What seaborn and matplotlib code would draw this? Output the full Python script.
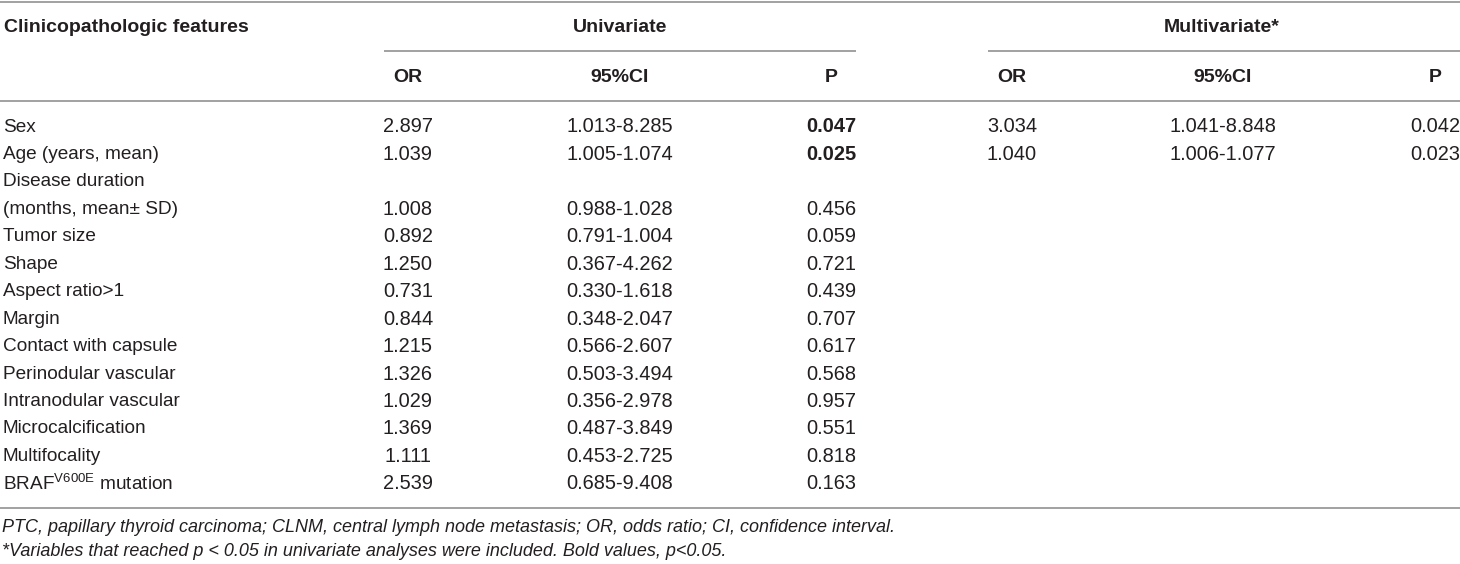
import matplotlib
matplotlib.use("Agg")
import matplotlib.pyplot as plt
import seaborn as sns

# ---------------- data ----------------
features = ["Sex", "Age (years, mean)", "Disease duration", "(months, mean\u00b1 SD)",
            "Tumor size", "Shape", "Aspect ratio>1", "Margin", "Contact with capsule",
            "Perinodular vascular", "Intranodular vascular", "Microcalcification",
            "Multifocality", r"BRAF$^{\mathrm{V600E}}$ mutation"]
uni_or = ["2.897", "1.039", "", "1.008", "0.892", "1.250", "0.731", "0.844", "1.215",
          "1.326", "1.029", "1.369", "1.111", "2.539"]
uni_ci = ["1.013-8.285", "1.005-1.074", "", "0.988-1.028", "0.791-1.004", "0.367-4.262",
          "0.330-1.618", "0.348-2.047", "0.566-2.607", "0.503-3.494", "0.356-2.978",
          "0.487-3.849", "0.453-2.725", "0.685-9.408"]
uni_p = ["0.047", "0.025", "", "0.456", "0.059", "0.721", "0.439", "0.707", "0.617",
         "0.568", "0.957", "0.551", "0.818", "0.163"]
uni_p_bold = [True, True] + [False] * 12
multi_or = ["3.034", "1.040"] + [""] * 12
multi_ci = ["1.041-8.848", "1.006-1.077"] + [""] * 12
multi_p = ["0.042", "0.023"] + [""] * 12

header_feature = "Clinicopathologic features"
group_labels = ["Univariate", "Multivariate*"]
sub_labels = ["OR", "95%CI", "P"]
footnotes = ["PTC, papillary thyroid carcinoma; CLNM, central lymph node metastasis; OR, odds ratio; CI, confidence interval.",
             "*Variables that reached p < 0.05 in univariate analyses were included. Bold values, p<0.05."]

# ---------------- style ----------------
sns.set_theme(style="white")
FONT = ["Liberation Sans", "DejaVu Sans"]
plt.rcParams["font.family"] = FONT
plt.rcParams["mathtext.fontset"] = "custom"
plt.rcParams["mathtext.rm"] = "Liberation Sans"
plt.rcParams["mathtext.it"] = "Liberation Sans:italic"
plt.rcParams["mathtext.bf"] = "Liberation Sans:bold"

TXT = "#231f20"
RULE = "#9a9a9a"
FS_HEAD = 14.0
FS_FEAT = 13.7
FS_NUM = 14.4
FS_FOOT = 13.0

W, H = 1460, 564
fig = plt.figure(figsize=(W / 100, H / 100), dpi=100)
ax = fig.add_axes([0, 0, 1, 1])
ax.set_xlim(0, W)
ax.set_ylim(H, 0)
ax.axis("off")

# rules
ax.hlines([2, 101, 508], 0, W, color=RULE, lw=1.3)
ax.hlines(51, 384, 856, color=RULE, lw=1.3)
ax.hlines(51, 988, W, color=RULE, lw=1.3)

# header
y_h1, y_h2 = 27, 78
ax.text(4, y_h1, header_feature, ha="left", va="center", fontsize=FS_HEAD, fontweight="bold", color=TXT)
group_x = [620, 1222]
for gx, lab in zip(group_x, group_labels):
    ax.text(gx, y_h1, lab, ha="center", va="center", fontsize=FS_HEAD, fontweight="bold", color=TXT)
col_x = [408, 620, 831, 1012, 1223, 1435]
for i, cx in enumerate(col_x):
    ax.text(cx, y_h2, sub_labels[i % 3], ha="center", va="center", fontsize=FS_HEAD,
            fontweight="bold", color=TXT)

# body rows
y0, dy = 127, 27.45
for i, feat in enumerate(features):
    y = y0 + i * dy
    ax.text(3, y, feat, ha="left", va="center", fontsize=FS_FEAT, color=TXT)
    cols = [uni_or[i], uni_ci[i], uni_p[i], multi_or[i], multi_ci[i], multi_p[i]]
    for j, (cx, val) in enumerate(zip(col_x, cols)):
        if not val:
            continue
        bold = (j == 2 and uni_p_bold[i])
        ax.text(cx, y, val, ha="center", va="center", fontsize=FS_NUM, color=TXT,
                fontweight="bold" if bold else "normal")

# footnotes
ax.text(2, 527, footnotes[0], ha="left", va="center", fontsize=FS_FOOT, style="italic", color=TXT)
ax.text(2, 551, footnotes[1], ha="left", va="center", fontsize=FS_FOOT, style="italic", color=TXT)

fig.savefig("out.png", dpi=100, facecolor="white")
